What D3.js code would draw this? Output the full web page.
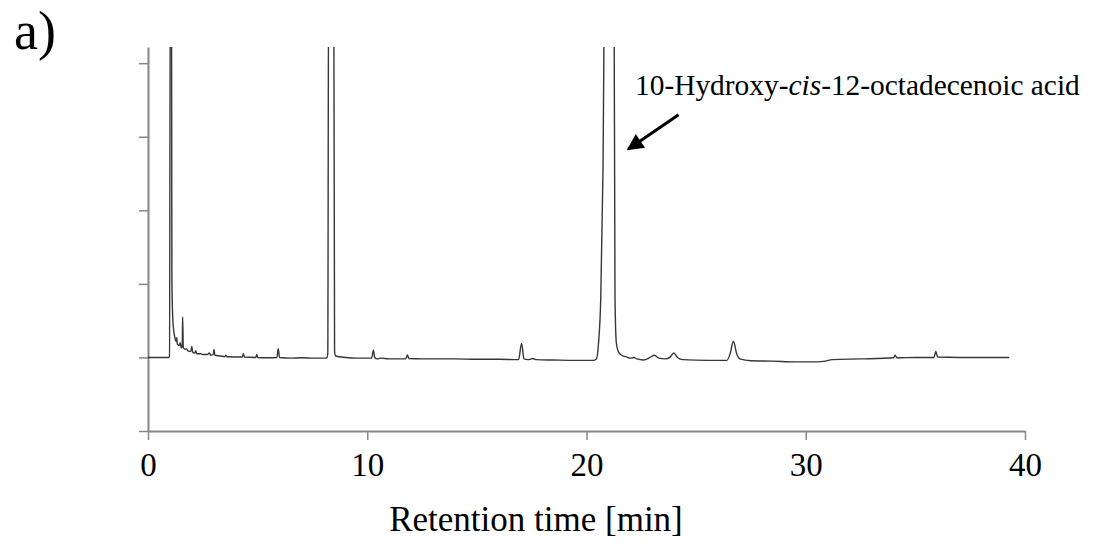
<!DOCTYPE html>
<html>
<head>
<meta charset="utf-8">
<script src="https://cdn.jsdelivr.net/npm/d3@7"></script>
<style>
  body { margin: 0; background: #fff; }
  svg { display: block; font-family: "Liberation Serif", "DejaVu Serif", serif; }
</style>
</head>
<body>
<div class="chart"></div>
<script>
// Retention time [min] and detector signal (signal in y-tick units).
const times = [
  0, 0.5, 0.93, 0.98, 1.02, 1.07, 1.09, 1.12, 1.16, 1.22, 1.28, 1.31, 1.34, 1.42, 1.47, 1.52,
  1.56, 1.58, 1.61, 1.68, 1.75, 1.82, 1.95, 2.0, 2.04, 2.12, 2.18, 2.22, 2.4, 2.5, 2.7, 2.8,
  2.86, 2.98, 3.01, 3.05, 3.3, 3.5, 3.55, 3.6, 4.3, 4.35, 4.4, 4.92, 4.96, 5.0, 5.5, 5.88,
  5.94, 6.0, 6.5, 7.0, 7.6, 8.15, 8.2, 8.24, 8.47, 8.51, 8.56, 9.0, 9.5, 10.2, 10.28, 10.34,
  10.45, 10.6, 11.0, 11.75, 11.83, 11.9, 12.5, 14.0, 15.0, 16.0, 16.9, 17.04, 17.15, 17.35, 17.55, 17.7,
  18.5, 19.5, 20.3, 20.45, 20.55, 20.65, 20.75, 20.84, 21.25, 21.3, 21.36, 21.45, 21.6, 21.8, 22.0, 22.15,
  22.3, 22.6, 22.9, 23.1, 23.3, 23.6, 23.8, 23.98, 24.15, 24.4, 25.5, 26.4, 26.55, 26.7, 26.85, 27.0,
  27.5, 28.5, 29.5, 30.5, 30.9, 31.2, 32.5, 34.0, 34.08, 34.15, 35.0, 35.85, 35.93, 36.02, 37.0, 38.5,
  39.28
];
const signal = [
  0, 0, 0, 0.01, 5.5, 5.5, 1.1, 0.6, 0.4, 0.28, 0.22, 0.27, 0.18, 0.16, 0.2, 0.13,
  0.14, 0.55, 0.14, 0.11, 0.12, 0.09, 0.08, 0.15, 0.07, 0.06, 0.09, 0.05, 0.05, 0.04, 0.04, 0.06,
  0.03, 0.04, 0.11, 0.03, 0.02, 0.01, 0.03, 0.01, 0.005, 0.05, 0.005, 0, 0.04, 0, -0.005, 0,
  0.12, 0, -0.01, -0.005, -0.01, -0.01, 0.05, 5.5, 5.5, 0.08, 0.02, 0, -0.01, -0.01, 0.1, 0,
  -0.02, -0.01, -0.02, -0.02, 0.035, -0.015, -0.02, -0.02, -0.025, -0.025, -0.03, 0.19, -0.02, -0.03, -0.015, -0.03,
  -0.035, -0.04, -0.04, -0.02, 0.2, 0.8, 2.5, 5.5, 5.5, 0.8, 0.2, 0.08, 0.03, 0.01, -0.01, 0,
  -0.02, -0.035, 0, 0.03, -0.01, -0.02, 0, 0.06, 0, -0.03, -0.04, -0.04, 0.05, 0.22, 0.05, -0.02,
  -0.045, -0.05, -0.06, -0.06, -0.05, -0.03, -0.02, -0.005, 0.03, -0.005, 0, 0, 0.08, 0.005, 0, 0,
  0
];
const xTicks = [0, 10, 20, 30, 40];
const yTicks = [-1, 0, 1, 2, 3, 4];
const xTitle = "Retention time [min]";
const panelLabel = "a)";
const peakName = ["10-Hydroxy-", "cis", "-12-octadecenoic acid"];
const peakArrow = { from: [24.2, 3.3], to: [21.9, 2.83] };

const width = 1095, height = 551;
const axisColor = "#868686";

const svg = d3.select(".chart").append("svg")
  .attr("width", width)
  .attr("height", height);

// Scales: plot area as measured on the reference.
const x = d3.scaleLinear().domain([0, 40]).range([148, 1025]);
const y = d3.scaleLinear().domain([-1, 4.22]).range([431, 47]);

// Clip the trace at the top of the y axis, peaks run off the chart.
svg.append("clipPath").attr("id", "plotClip")
  .append("rect")
  .attr("x", x(0)).attr("y", y(4.22))
  .attr("width", x(40) - x(0)).attr("height", y(-1) - y(4.22));

// Y axis, no labels.
const yAxis = svg.append("g")
  .attr("transform", `translate(${x(0)},0)`)
  .call(d3.axisLeft(y).tickValues(yTicks).tickSize(9).tickSizeOuter(0).tickFormat(""));
yAxis.select(".domain").attr("stroke", axisColor).attr("stroke-width", 2);
yAxis.selectAll(".tick line").attr("stroke", axisColor).attr("stroke-width", 1.5);

// X axis at the bottom of the plot.
const xAxis = svg.append("g")
  .attr("transform", `translate(0,${y(-1)})`)
  .attr("font-family", null)
  .call(d3.axisBottom(x).tickValues(xTicks).tickSize(9).tickSizeOuter(0).tickPadding(13));
xAxis.attr("font-family", "Liberation Serif");
xAxis.select(".domain").attr("stroke", axisColor).attr("stroke-width", 2);
xAxis.selectAll(".tick line").attr("stroke", axisColor).attr("stroke-width", 1.5);
xAxis.selectAll(".tick text")
  .attr("fill", "#000")
  .style("font-family", "Liberation Serif")
  .style("font-size", "33px");

// Chromatogram trace.
const points = times.map((t, i) => [t, signal[i]]);
svg.append("path")
  .datum(points)
  .attr("clip-path", "url(#plotClip)")
  .attr("fill", "none")
  .attr("stroke", "#363636")
  .attr("stroke-width", 1.4)
  .attr("stroke-linejoin", "round")
  .attr("d", d3.line().x(d => x(d[0])).y(d => y(d[1])).curve(d3.curveMonotoneX));

// Axis title.
svg.append("text")
  .attr("x", 536)
  .attr("y", 531)
  .attr("text-anchor", "middle")
  .style("font-size", "35px")
  .text(xTitle);

// Panel label.
svg.append("text")
  .attr("x", 14)
  .attr("y", 49)
  .style("font-size", "54px")
  .text(panelLabel);

// Peak annotation with arrow.
const label = svg.append("text")
  .attr("x", 635)
  .attr("y", 95)
  .style("font-size", "29.4px");
label.append("tspan").text(peakName[0]);
label.append("tspan").style("font-style", "italic").text(peakName[1]);
label.append("tspan").text(peakName[2]);

svg.append("defs").append("marker")
  .attr("id", "arrowHead")
  .attr("viewBox", "0 0 10 10")
  .attr("refX", 9).attr("refY", 5)
  .attr("markerWidth", 6.5).attr("markerHeight", 5.5)
  .attr("markerUnits", "strokeWidth")
  .attr("orient", "auto")
  .append("path")
  .attr("d", "M0,0L10,5L0,10Z")
  .attr("fill", "#000");

svg.append("line")
  .attr("x1", x(peakArrow.from[0])).attr("y1", y(peakArrow.from[1]))
  .attr("x2", x(peakArrow.to[0])).attr("y2", y(peakArrow.to[1]))
  .attr("stroke", "#000")
  .attr("stroke-width", 3)
  .attr("marker-end", "url(#arrowHead)");
</script>
</body>
</html>
